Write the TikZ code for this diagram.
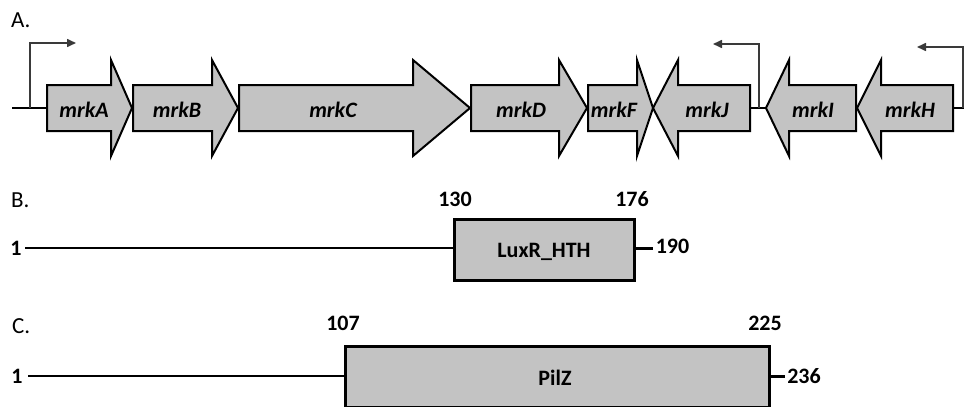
\documentclass[tikz,border=0pt]{standalone}
\usepackage{fontspec}
\setmainfont{Carlito}
\usetikzlibrary{arrows.meta}
\definecolor{genefill}{HTML}{C3C3C3}
\definecolor{promcol}{HTML}{3A3A3A}
\tikzset{
  geneshape/.style={draw=black, line width=2pt, fill=genefill, line join=miter},
  genelabel/.style={font=\fontsize{22}{22}\selectfont\bfseries\itshape, anchor=base, inner sep=0pt},
  numlabel/.style={font=\fontsize{22}{22}\selectfont\bfseries, anchor=base, inner sep=0pt},
  panellabel/.style={font=\fontsize{23}{23}\selectfont, anchor=base west, inner sep=0pt},
  backbone/.style={draw=black, line width=2pt},
  domainbox/.style={draw=black, line width=2.8pt, fill=genefill},
  promoter/.style={draw=promcol, line width=1.6pt, -{Triangle[length=9pt,width=8pt]}},
}
% right-pointing gene: left, head start, tip
\newcommand\geneRt[3]{\path[geneshape] (#1,85) -- (#2,85) -- (#2,60) -- (#3,108) -- (#2,156) -- (#2,131) -- (#1,131) -- cycle;}
% left-pointing gene: tip, head end, right
\newcommand\geneLt[3]{\path[geneshape] (#3,85) -- (#2,85) -- (#2,60) -- (#1,108) -- (#2,156) -- (#2,131) -- (#3,131) -- cycle;}
\begin{document}
\begin{tikzpicture}[x=1pt,y=-1pt]
\useasboundingbox (0,0) rectangle (964,407);
% ---------- Panel A ----------
\node[panellabel] (labA) at (11,27) {A.};
\coordinate (a0) at (12,108);
\coordinate (aA) at (47,108);
\coordinate (jR) at (750,108);
\coordinate (iT) at (766,108);
\coordinate (hR) at (953,108);
\coordinate (aEnd) at (964,108);
\draw[backbone] (a0) -- (aA);
\draw[backbone] (jR) -- (iT);
\draw[backbone] (hR) -- (aEnd);
\geneRt{47}{111}{132}
\geneRt{133}{212}{238}
\geneRt{239}{413}{470}
\geneRt{471}{559}{587}
\geneRt{588}{637}{653}
\geneLt{653}{678}{750}
\geneLt{766}{789}{856}
\geneLt{857}{881}{953}
\node[genelabel] (gA) at (84,117.5) {mrkA};
\node[genelabel] (gB) at (177,117.5) {mrkB};
\node[genelabel] (gC) at (333,117.5) {mrkC};
\node[genelabel] (gD) at (521,117.5) {mrkD};
\node[genelabel] (gF) at (614,117.5) {mrkF};
\node[genelabel] (gJ) at (707,117.5) {mrkJ};
\node[genelabel] (gI) at (813,117.5) {mrkI};
\node[genelabel] (gH) at (910,117.5) {mrkH};
% promoters
\coordinate (p1b) at (30,108);
\coordinate (p1e) at (76,43);
\coordinate (p2b) at (759,108);
\coordinate (p2e) at (713,44);
\coordinate (p3b) at (963,108);
\coordinate (p3e) at (917,47);
\draw[promoter] (p1b) |- (p1e);
\draw[promoter] (p2b) |- (p2e);
\draw[promoter] (p3b) |- (p3e);
% ---------- Panel B ----------
\node[panellabel] (labB) at (11,207) {B.};
\node[numlabel] (b1) at (16,255) {1};
\node[domainbox, minimum width=180pt, minimum height=61pt, inner sep=0pt, anchor=north west] (lux) at (453,218) {};
\node[numlabel] at (544,257) {LuxR\_HTH};
\coordinate (bline) at (25,248);
\draw[backbone] (bline) -- (bline -| lux.west);
\coordinate (btick) at (653,248);
\draw[backbone, line width=3pt] (lux.east |- btick) -- (btick);
\node[numlabel] (b190) at (672.5,253.5) {190};
\node[numlabel] (b130) at (455,206) {130};
\node[numlabel] (b176) at (632,206) {176};
% ---------- Panel C ----------
\node[panellabel] (labC) at (12,333) {C.};
\node[numlabel] (c1) at (17,383) {1};
\node[domainbox, minimum width=424pt, minimum height=61pt, inner sep=0pt, anchor=north west] (pilz) at (344,345) {};
\node[numlabel] at (555,385) {PilZ};
\coordinate (cline) at (28,376);
\draw[backbone] (cline) -- (cline -| pilz.west);
\coordinate (ctick) at (785,376);
\draw[backbone, line width=3pt] (pilz.east |- ctick) -- (ctick);
\node[numlabel] (c107) at (343,330) {107};
\node[numlabel] (c225) at (765,330) {225};
\node[numlabel] (c236) at (804,383) {236};
\end{tikzpicture}
\end{document}
